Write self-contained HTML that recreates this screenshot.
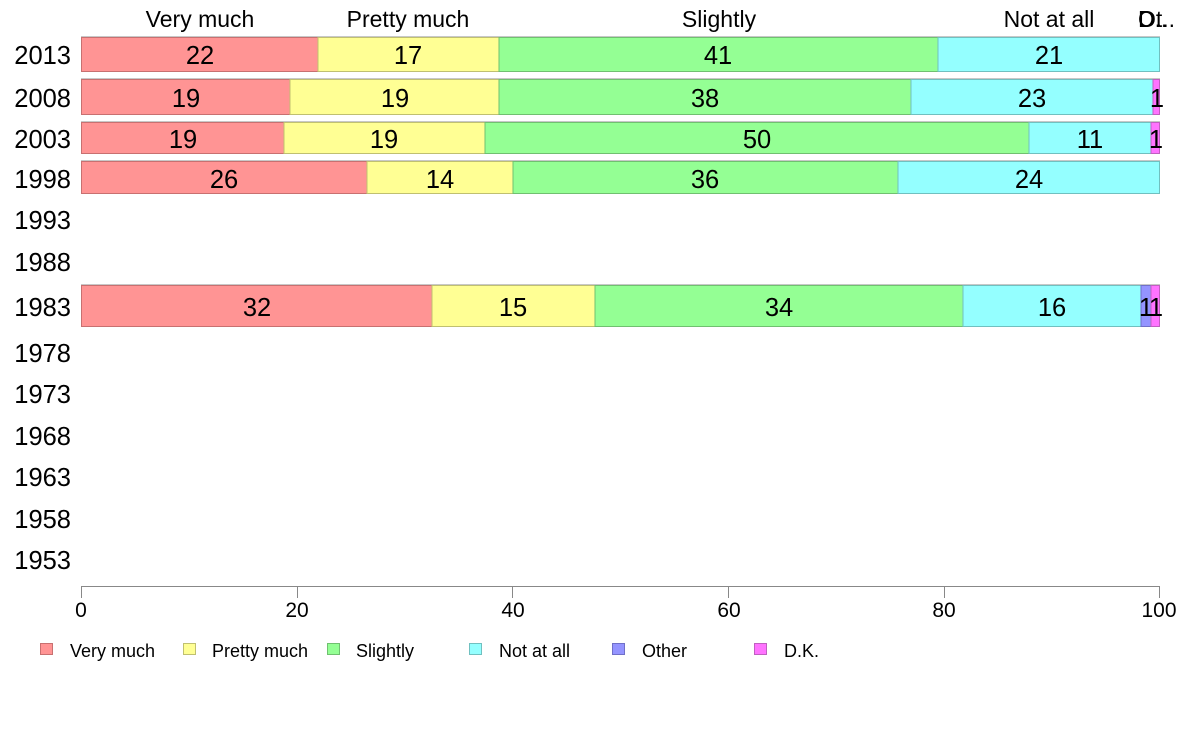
<!DOCTYPE html>
<html><head><meta charset="utf-8"><style>
html,body{margin:0;padding:0;background:#fff;}
svg{display:block;font-family:"Liberation Sans",Arial,sans-serif;}
</style></head><body>
<svg width="1188" height="736" viewBox="0 0 1188 736" xmlns="http://www.w3.org/2000/svg">
<rect width="1188" height="736" fill="#fff"/>
<!-- top category labels -->
<g font-size="23" fill="#000" text-anchor="middle">
<text x="200" y="27">Very much</text>
<text x="408" y="27">Pretty much</text>
<text x="719" y="27">Slightly</text>
<text x="1049" y="27">Not at all</text>
<text x="1138" y="27" text-anchor="start">Ot..</text>
<text x="1138" y="27" text-anchor="start">D..</text>
</g>
<!-- year labels -->
<g font-size="25.5" fill="#000" text-anchor="end">
<text x="71" y="64">2013</text>
<text x="71" y="107">2008</text>
<text x="71" y="148">2003</text>
<text x="71" y="188">1998</text>
<text x="71" y="229">1993</text>
<text x="71" y="271">1988</text>
<text x="71" y="316">1983</text>
<text x="71" y="362">1978</text>
<text x="71" y="403">1973</text>
<text x="71" y="445">1968</text>
<text x="71" y="486">1963</text>
<text x="71" y="528">1958</text>
<text x="71" y="569">1953</text>
</g>
<!-- bars -->
<g stroke-width="1">
<!-- 2013 -->
<line x1="81" y1="36.5" x2="1160" y2="36.5" stroke="#c8c8c8"/>
<rect x="81.5" y="37.5" width="236.5" height="34" fill="#ff9494" stroke="#c87070"/>
<rect x="318" y="37.5" width="181" height="34" fill="#ffff94" stroke="#c0c070"/>
<rect x="499" y="37.5" width="439" height="34" fill="#94ff94" stroke="#70c070"/>
<rect x="938" y="37.5" width="221.5" height="34" fill="#94ffff" stroke="#70c0c0"/>
<!-- 2008 -->
<line x1="81" y1="78.5" x2="1160" y2="78.5" stroke="#c8c8c8"/>
<rect x="81.5" y="79.5" width="208.5" height="35" fill="#ff9494" stroke="#c87070"/>
<rect x="290" y="79.5" width="209" height="35" fill="#ffff94" stroke="#c0c070"/>
<rect x="499" y="79.5" width="412" height="35" fill="#94ff94" stroke="#70c070"/>
<rect x="911" y="79.5" width="242" height="35" fill="#94ffff" stroke="#70c0c0"/>
<rect x="1153" y="79.5" width="6.5" height="35" fill="#ff73ff" stroke="#c060c0"/>
<!-- 2003 -->
<line x1="81" y1="121.5" x2="1160" y2="121.5" stroke="#c8c8c8"/>
<rect x="81.5" y="122.5" width="202.5" height="31" fill="#ff9494" stroke="#c87070"/>
<rect x="284" y="122.5" width="201" height="31" fill="#ffff94" stroke="#c0c070"/>
<rect x="485" y="122.5" width="544" height="31" fill="#94ff94" stroke="#70c070"/>
<rect x="1029" y="122.5" width="122" height="31" fill="#94ffff" stroke="#70c0c0"/>
<rect x="1151" y="122.5" width="8.5" height="31" fill="#ff73ff" stroke="#c060c0"/>
<!-- 1998 -->
<line x1="81" y1="160.5" x2="1160" y2="160.5" stroke="#c8c8c8"/>
<rect x="81.5" y="161.5" width="285.5" height="32" fill="#ff9494" stroke="#c87070"/>
<rect x="367" y="161.5" width="146" height="32" fill="#ffff94" stroke="#c0c070"/>
<rect x="513" y="161.5" width="385" height="32" fill="#94ff94" stroke="#70c070"/>
<rect x="898" y="161.5" width="261.5" height="32" fill="#94ffff" stroke="#70c0c0"/>
<!-- 1983 -->
<line x1="81" y1="284.5" x2="1160" y2="284.5" stroke="#c8c8c8"/>
<rect x="81.5" y="285.5" width="350.5" height="41" fill="#ff9494" stroke="#c87070"/>
<rect x="432" y="285.5" width="163" height="41" fill="#ffff94" stroke="#c0c070"/>
<rect x="595" y="285.5" width="368" height="41" fill="#94ff94" stroke="#70c070"/>
<rect x="963" y="285.5" width="178" height="41" fill="#94ffff" stroke="#70c0c0"/>
<rect x="1141" y="285.5" width="10" height="41" fill="#9494ff" stroke="#7070c8"/>
<rect x="1151" y="285.5" width="8.5" height="41" fill="#ff73ff" stroke="#c060c0"/>
</g>
<!-- value labels -->
<g font-size="25.5" fill="#000" text-anchor="middle">
<text x="200" y="64">22</text>
<text x="408" y="64">17</text>
<text x="718" y="64">41</text>
<text x="1049" y="64">21</text>

<text x="186" y="107">19</text>
<text x="395" y="107">19</text>
<text x="705" y="107">38</text>
<text x="1032" y="107">23</text>
<text x="1157" y="107">1</text>

<text x="183" y="148">19</text>
<text x="384" y="148">19</text>
<text x="757" y="148">50</text>
<text x="1090" y="148">11</text>
<text x="1156" y="148">1</text>

<text x="224" y="188">26</text>
<text x="440" y="188">14</text>
<text x="705" y="188">36</text>
<text x="1029" y="188">24</text>

<text x="257" y="316">32</text>
<text x="513" y="316">15</text>
<text x="779" y="316">34</text>
<text x="1052" y="316">16</text>
<text x="1146" y="316">1</text>
<text x="1156" y="316">1</text>
</g>
<!-- x axis -->
<g stroke="#888" stroke-width="1" fill="none">
<line x1="81" y1="586.5" x2="1160" y2="586.5"/>
<line x1="81.5" y1="586" x2="81.5" y2="598"/>
<line x1="297.5" y1="586" x2="297.5" y2="598"/>
<line x1="512.5" y1="586" x2="512.5" y2="598"/>
<line x1="728.5" y1="586" x2="728.5" y2="598"/>
<line x1="944.5" y1="586" x2="944.5" y2="598"/>
<line x1="1159.5" y1="586" x2="1159.5" y2="598"/>
</g>
<g font-size="21" fill="#000" text-anchor="middle">
<text x="81" y="617">0</text>
<text x="297" y="617">20</text>
<text x="513" y="617">40</text>
<text x="729" y="617">60</text>
<text x="944" y="617">80</text>
<text x="1159" y="617">100</text>
</g>
<!-- legend -->
<g stroke-width="1">
<rect x="40.5" y="643.5" width="12" height="11" fill="#ff9494" stroke="#c87070"/>
<rect x="183.5" y="643.5" width="12" height="11" fill="#ffff94" stroke="#c0c070"/>
<rect x="327.5" y="643.5" width="12" height="11" fill="#94ff94" stroke="#70c070"/>
<rect x="469.5" y="643.5" width="12" height="11" fill="#94ffff" stroke="#70c0c0"/>
<rect x="612.5" y="643.5" width="12" height="11" fill="#9494ff" stroke="#7070c8"/>
<rect x="754.5" y="643.5" width="12" height="11" fill="#ff73ff" stroke="#c060c0"/>
</g>
<g font-size="18" fill="#000">
<text x="70" y="657">Very much</text>
<text x="212" y="657">Pretty much</text>
<text x="356" y="657">Slightly</text>
<text x="499" y="657">Not at all</text>
<text x="642" y="657">Other</text>
<text x="784" y="657">D.K.</text>
</g>
</svg>
</body></html>
